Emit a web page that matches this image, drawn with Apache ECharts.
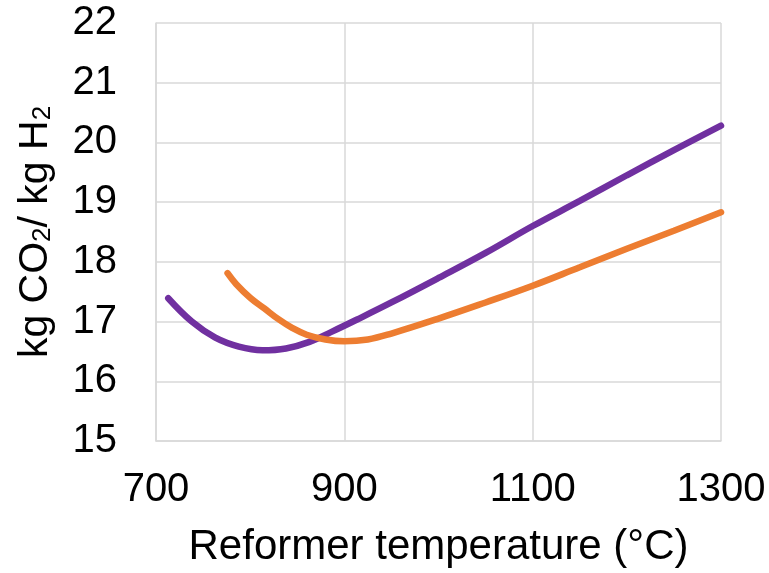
<!DOCTYPE html>
<html>
<head>
    <meta charset="utf-8">
    <title>Reformer temperature</title>
    <script src="https://cdn.jsdelivr.net/npm/echarts@6/dist/echarts.min.js"></script>
    <style>
        body { margin: 0; background: #fff; }
        #main { width: 769px; height: 573px; }
    </style>
</head>
<body>
    <div id="main"></div>
    <script type="text/javascript">
        // values
        var purpleTemps = [713, 738, 763, 788, 813, 838, 863, 888, 913, 950, 1000, 1050, 1100, 1150, 1200, 1250, 1300];
        var purpleCO2 = [17.39, 17.00, 16.73, 16.58, 16.52, 16.55, 16.66, 16.84, 17.03, 17.32, 17.73, 18.15, 18.60, 19.02, 19.45, 19.87, 20.28];

        var orangeTemps = [776, 785, 800, 815, 830, 845, 860, 880, 900, 925, 950, 1000, 1050, 1100, 1150, 1200, 1250, 1300];
        var orangeCO2 = [17.81, 17.63, 17.40, 17.22, 17.04, 16.89, 16.78, 16.70, 16.67, 16.70, 16.80, 17.05, 17.32, 17.60, 17.91, 18.22, 18.52, 18.83];

        function pairs(xs, ys) {
            return xs.map(function (x, i) { return [x, ys[i]]; });
        }

        var chartDom = document.getElementById('main');
        var myChart = echarts.init(chartDom, null, {renderer: 'canvas'});

        var gridColor = '#d9d9d9';
        var font = '"Liberation Sans", Arial, sans-serif';

        var option = {
            animation: false,
            grid: {left: 156, right: 48, top: 23, bottom: 130},
            xAxis: {
                type: 'value',
                min: 700,
                max: 1300,
                interval: 200,
                name: 'Reformer temperature (°C)',
                nameLocation: 'middle',
                nameGap: 85,
                nameTextStyle: {color: '#000', fontSize: 42, fontFamily: font},
                axisLine: {show: true, lineStyle: {color: gridColor, width: 1.5}},
                axisTick: {show: false},
                axisLabel: {color: '#000', fontSize: 40, fontFamily: font, margin: 29,
                    formatter: function (v) { return String(v); }},
                splitLine: {show: true, lineStyle: {color: gridColor, width: 1.5}}
            },
            yAxis: {
                type: 'value',
                min: 15,
                max: 22,
                interval: 1,
                name: '{a|kg CO}{s|2}{a|/ kg H}{s|2}',
                nameLocation: 'middle',
                nameGap: 100,
                nameTextStyle: {
                    color: '#000',
                    fontFamily: font,
                    rich: {
                        a: {fontSize: 41, fontFamily: font, color: '#000', lineHeight: 52, verticalAlign: 'bottom'},
                        s: {fontSize: 26, fontFamily: font, color: '#000', lineHeight: 38, verticalAlign: 'bottom'}
                    }
                },
                axisLine: {show: true, lineStyle: {color: gridColor, width: 1.5}},
                axisTick: {show: false},
                axisLabel: {color: '#000', fontSize: 40, fontFamily: font, margin: 39},
                splitLine: {show: true, lineStyle: {color: gridColor, width: 1.5}}
            },
            series: [
                {
                    type: 'line',
                    data: pairs(purpleTemps, purpleCO2),
                    smooth: 0.4,
                    showSymbol: false,
                    lineStyle: {color: '#7030A0', width: 6.5, cap: 'round'}
                },
                {
                    type: 'line',
                    data: pairs(orangeTemps, orangeCO2),
                    smooth: 0.4,
                    showSymbol: false,
                    lineStyle: {color: '#ED7D31', width: 6.5, cap: 'round'}
                }
            ]
        };
        myChart.setOption(option);
    </script>
</body>
</html>
